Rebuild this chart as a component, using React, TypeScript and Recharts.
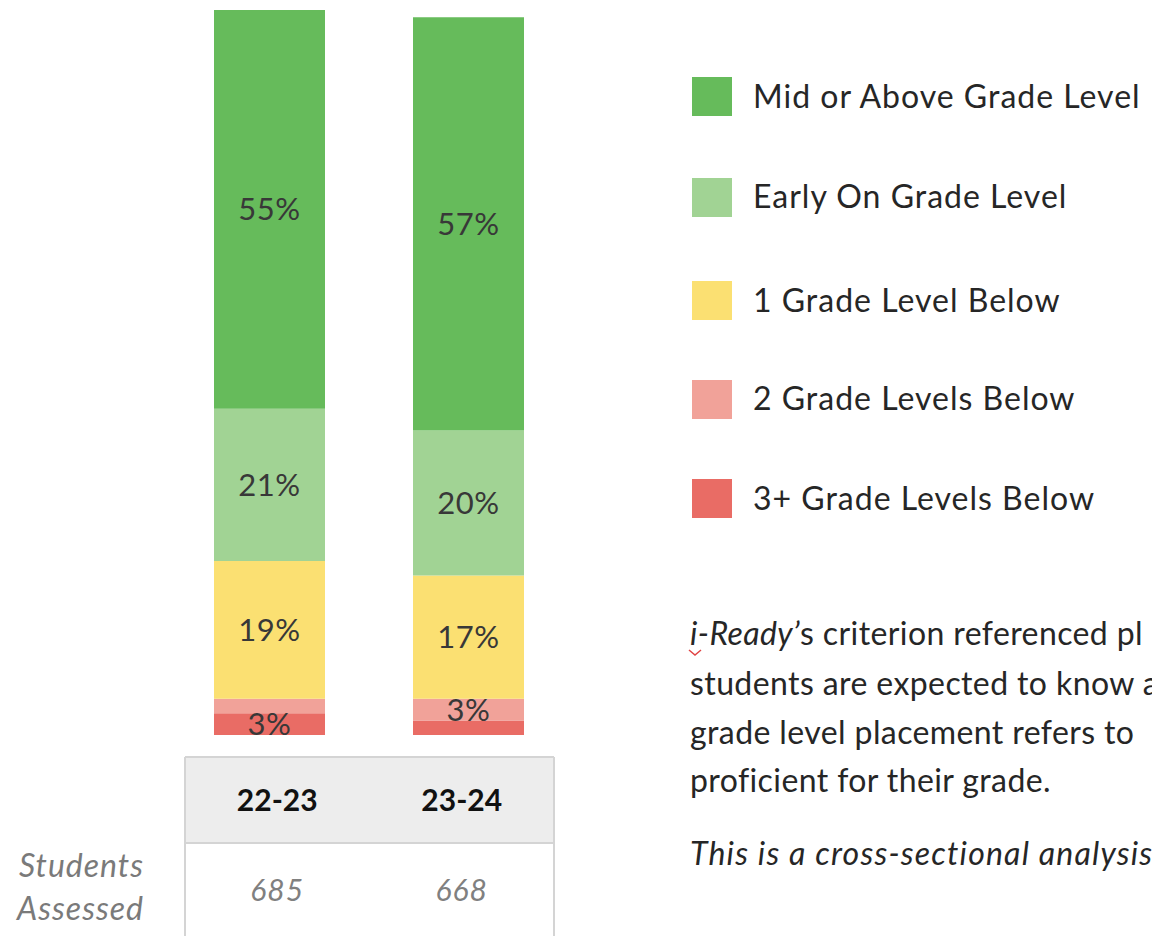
import React from 'react';
import { BarChart, Bar, XAxis, YAxis, LabelList } from 'recharts';

const years = ['22-23', '23-24'];
const midOrAbove = [55, 57];
const earlyOn = [21, 20];
const oneBelow = [19, 17];
const twoBelow = [2, 3];
const threeBelow = [3, 2];
const studentsAssessed = [685, 668];

// bottom-to-top stacking order
const seriesKeys = ['threeBelow', 'twoBelow', 'oneBelow', 'earlyOn', 'midOrAbove'];
const seriesNames = [
  '3+ Grade Levels Below',
  '2 Grade Levels Below',
  '1 Grade Level Below',
  'Early On Grade Level',
  'Mid or Above Grade Level',
];
const seriesColors = ['#e96c65', '#f1a299', '#fbe072', '#a1d394', '#66bb5b'];

const noteLines = [
  'students are expected to know a',
  'grade level placement refers to',
  'proficient for their grade.',
];
const noteLead = ['i-Ready\u2019', 's criterion referenced pl'];
const noteItalic = 'This is a cross-sectional analysis.';
const rowLabel = ['Students', 'Assessed'];

const seriesValues: Record<string, number[]> = {
  threeBelow,
  twoBelow,
  oneBelow,
  earlyOn,
  midOrAbove,
};

const data = years.map((y, i) => {
  const row: Record<string, string | number> = { year: y };
  seriesKeys.forEach((k) => {
    row[k] = seriesValues[k][i];
  });
  return row;
});

const FONT = 'Lato, "Open Sans", sans-serif';

const fmt = (v: any) => (Number(v) >= 3 ? `${v}%` : '');

export default function App() {
  const legendOrder = [...seriesKeys.keys()].reverse();
  const tableX = 185;
  const tableW = 369;
  const colCenters = years.map((_, i) => tableX + (tableW / years.length) * (i + 0.5));
  return (
    <div
      style={{
        position: 'absolute',
        left: 0,
        top: 0,
        width: 1152,
        height: 936,
        overflow: 'hidden',
        background: '#ffffff',
        fontFamily: FONT,
      }}
    >
      <div style={{ position: 'absolute', left: 0, top: 0 }}>
        <BarChart
          width={600}
          height={760}
          data={data}
          margin={{ top: 10, right: 32, left: 170, bottom: 25 }}
          barSize={111}
        >
          <XAxis dataKey="year" hide />
          <YAxis hide domain={[0, 100]} type="number" allowDataOverflow />
          {seriesKeys.map((k, i) => (
            <Bar
              key={k}
              dataKey={k}
              name={seriesNames[i]}
              stackId="a"
              fill={seriesColors[i]}
              isAnimationActive={false}
            >
              <LabelList
                dataKey={k}
                position="center"
                formatter={fmt}
                fill="#383838"
                fontSize={31}
                fontFamily={FONT}
                letterSpacing={0.5}
              />
            </Bar>
          ))}
        </BarChart>
      </div>
      <svg
        width={1152}
        height={936}
        style={{ position: 'absolute', left: 0, top: 0, pointerEvents: 'none' }}
        fontFamily={FONT}
      >
        {/* table */}
        <rect x={tableX} y={757} width={tableW} height={86} fill="#ededed" />
        <line x1={tableX} y1={757} x2={tableX + tableW} y2={757} stroke="#d4d4d4" strokeWidth={2} />
        <line x1={tableX} y1={843} x2={tableX + tableW} y2={843} stroke="#d4d4d4" strokeWidth={2} />
        <line x1={tableX} y1={757} x2={tableX} y2={940} stroke="#d4d4d4" strokeWidth={2} />
        <line x1={tableX + tableW} y1={757} x2={tableX + tableW} y2={940} stroke="#d4d4d4" strokeWidth={2} />
        {years.map((y, i) => (
          <text key={y} x={colCenters[i]} y={811} textAnchor="middle" fontSize={30} fontWeight={700} fill="#111">
            {y}
          </text>
        ))}
        {studentsAssessed.map((v, i) => (
          <text key={i} x={colCenters[i]} y={901} textAnchor="middle" fontSize={30} fontStyle="italic" fill="#808080" letterSpacing={1}>
            {v}
          </text>
        ))}
        <text x={144} y={877} textAnchor="end" fontSize={32} fontStyle="italic" fill="#7a7a7a" letterSpacing={1}>
          {rowLabel[0]}
        </text>
        <text x={144} y={920} textAnchor="end" fontSize={32} fontStyle="italic" fill="#7a7a7a" letterSpacing={1}>
          {rowLabel[1]}
        </text>

        {/* legend */}
        {legendOrder.map((si, r) => {
          const top = [77, 178, 281, 380, 479][r];
          const base = [108, 208, 312, 410, 510][r];
          return (
            <g key={si}>
              <rect x={692} y={top} width={40} height={39} fill={seriesColors[si]} />
              <text x={753} y={base} fontSize={32} fill="#262626" letterSpacing={1}>
                {seriesNames[si]}
              </text>
            </g>
          );
        })}

        {/* notes */}
        <text x={690} y={645} fontSize={32} fill="#262626" letterSpacing={0.4}>
          <tspan fontStyle="italic">{noteLead[0]}</tspan>
          <tspan>{noteLead[1]}</tspan>
        </text>
        <polyline points="689,650 695,655 701,650" fill="none" stroke="#e04444" strokeWidth={1.5} />
        {noteLines.map((l, i) => (
          <text key={i} x={690} y={[695, 744, 792][i]} fontSize={32} fill="#262626" letterSpacing={0.4}>
            {l}
          </text>
        ))}
        <text x={690} y={865} fontSize={32} fontStyle="italic" fill="#262626" letterSpacing={1.2}>
          {noteItalic}
        </text>
      </svg>
    </div>
  );
}
